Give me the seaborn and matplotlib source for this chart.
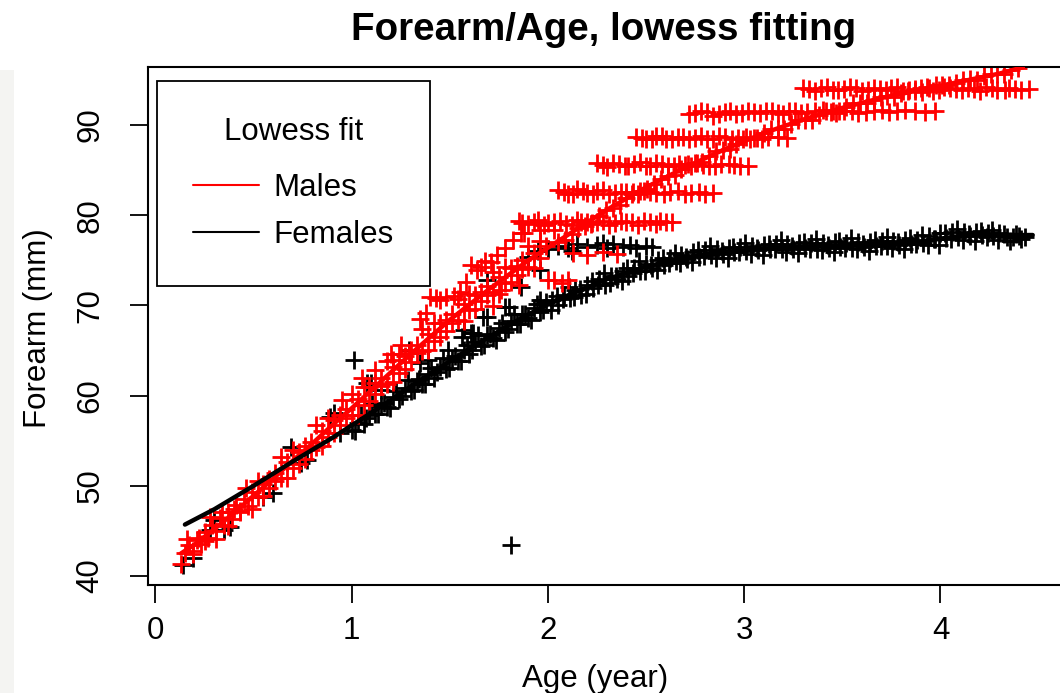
import matplotlib
matplotlib.use("Agg")
import matplotlib.pyplot as plt
import seaborn as sns
from matplotlib.patches import Rectangle

# ---------------- data ----------------
# Females: individual measurements
female_age = [
    0.14, 0.19, 0.28, 0.35, 0.38, 0.30, 0.55, 0.60, 0.69, 0.74, 0.77, 0.89, 0.94, 0.91,
    1.01, 1.10, 1.08, 1.15, 1.81,
    1.29, 1.35, 1.39, 1.49, 1.56, 1.61, 1.67, 1.69, 1.78, 1.80, 1.57, 1.62, 1.69, 1.86,
    1.90, 1.96, 1.96,
    1.95, 2.00, 2.05, 2.10, 2.12, 2.15, 2.20, 2.25, 2.28, 2.30, 2.33, 2.38, 2.42, 2.45,
    2.50, 2.53,
    1.00, 1.03, 1.06, 1.09, 1.12, 1.15, 1.18, 1.21, 1.24, 1.27, 1.30, 1.33, 1.36, 1.39,
    1.42, 1.45, 1.48, 1.51, 1.54, 1.57, 1.60, 1.63, 1.66, 1.69, 1.72, 1.75, 1.78, 1.81,
    1.84, 1.87, 1.90, 1.93, 1.96, 1.99,
    2.02, 2.05, 2.08, 2.11, 2.14, 2.17, 2.20, 2.23, 2.26, 2.29, 2.32, 2.35, 2.38, 2.41,
    2.44, 2.47, 2.50, 2.53, 2.56, 2.59, 2.62, 2.65, 2.68, 2.71, 2.74, 2.77, 2.80, 2.83,
    2.86, 2.89, 2.92, 2.95, 2.98, 3.01, 3.04, 3.07, 3.10, 3.13, 3.16, 3.19, 3.22, 3.25,
    3.28, 3.31, 3.34, 3.37, 3.40, 3.43, 3.46, 3.49, 3.52, 3.55, 3.58, 3.61, 3.64, 3.67,
    3.70, 3.73, 3.76, 3.79, 3.82, 3.85, 3.88, 3.91, 3.94, 3.97, 4.00, 4.03, 4.06, 4.09,
    4.12, 4.15, 4.18, 4.21, 4.24, 4.27, 4.30, 4.34, 4.37, 4.40,
    1.015, 1.045, 1.075, 1.105, 1.135, 1.165, 1.195, 1.225, 1.255, 1.285, 1.315, 1.345,
    1.375, 1.405, 1.435, 1.465, 1.495, 1.525, 1.555, 1.585, 1.615, 1.645, 1.675, 1.705,
    1.735, 1.765, 1.795, 1.825, 1.855, 1.885, 1.915, 1.945, 1.975,
    2.015, 2.045, 2.075, 2.105, 2.135, 2.165, 2.195, 2.225, 2.255, 2.285, 2.315, 2.345,
    2.375, 2.405, 2.435, 2.465, 2.495, 2.525, 2.555, 2.585, 2.615, 2.645, 2.675, 2.705,
    2.735, 2.765, 2.795, 2.825, 2.855, 2.885, 2.915, 2.945, 2.975, 3.005, 3.035, 3.065,
    3.095, 3.125, 3.155, 3.185, 3.215, 3.245, 3.275, 3.305, 3.335, 3.365, 3.395, 3.425,
    3.455, 3.485, 3.515, 3.545, 3.575, 3.605, 3.635, 3.665, 3.695, 3.725, 3.755, 3.785,
    3.815, 3.845, 3.875, 3.905, 3.935, 3.965, 3.995, 4.025, 4.055, 4.085, 4.115, 4.145,
    4.175, 4.205, 4.235, 4.265, 4.295, 4.325, 4.355, 4.385, 4.41, 4.43,
]
female_forearm = [
    41.2, 42.0, 45.1, 45.1, 45.4, 46.2, 48.8, 49.2, 54.3, 52.5, 52.9, 57.6, 55.8, 58.1,
    64.0, 61.4, 61.4, 60.6, 43.4,
    65.1, 63.6, 64.0, 65.1, 66.5, 66.9, 68.7, 68.7, 69.8, 69.8, 67.3, 66.9, 72.8, 72.0,
    75.4, 73.9, 70.6,
    76.0, 76.3, 76.6, 76.4, 76.0, 76.8, 76.5, 76.7, 76.9, 76.4, 76.8, 76.5, 76.7, 76.4,
    76.6, 76.5,
    56.2, 57.0, 56.8, 57.9, 58.0, 58.9, 58.7, 59.8, 59.6, 60.8, 60.5, 61.6, 61.3, 62.4,
    62.0, 63.2, 62.9, 64.1, 63.8, 65.0, 64.6, 65.9, 65.5, 66.7, 66.4, 67.5, 67.1, 68.3,
    67.9, 69.0, 68.6, 69.7, 69.3, 70.4,
    70.6, 70.0, 71.2, 70.8, 71.7, 71.2, 72.3, 71.9, 72.9, 72.3, 73.3, 72.9, 73.8, 73.3,
    74.1, 73.8, 74.6, 74.2, 75.0, 74.5, 75.3, 74.9, 75.6, 75.1, 75.9, 75.4, 76.1, 75.6,
    76.3, 75.7, 76.4, 75.9, 76.5, 76.0, 76.6, 76.1, 76.7, 76.2, 76.8, 76.3, 76.8, 76.3,
    76.9, 76.4, 76.9, 76.3, 76.9, 76.4, 77.0, 76.5, 76.9, 76.4, 77.0, 76.5, 77.0, 76.6,
    77.1, 76.6, 77.1, 76.7, 77.2, 76.8, 77.3, 76.9, 77.7, 77.4, 78.0, 77.5, 78.1, 77.6,
    78.1, 77.7, 78.1, 77.8, 78.0, 77.7, 78.0, 77.6, 77.6, 77.7,
    56.1, 57.9, 57.5, 59.1, 58.0, 59.2, 58.6, 60.5, 60.0, 61.7, 60.6, 61.8,
    61.3, 63.1, 62.6, 64.2, 63.1, 64.4, 63.8, 65.6, 65.1, 66.7, 65.6, 66.8,
    66.2, 68.0, 67.4, 69.0, 67.9, 69.0, 68.4, 70.1, 69.5,
    69.5, 71.0, 70.7, 72.0, 70.9, 71.8, 71.3, 72.7, 72.3, 73.6, 72.5, 73.3,
    72.7, 74.1, 73.6, 74.9, 73.8, 74.5, 73.9, 75.2, 74.7, 75.8, 74.7, 75.4,
    74.8, 76.1, 75.5, 76.6, 75.3, 76.0, 75.3, 76.5, 75.9, 76.9, 75.7, 76.4,
    75.6, 76.8, 76.2, 77.2, 75.9, 76.6, 75.8, 77.0, 76.3, 77.4, 76.1, 76.7,
    75.9, 77.1, 76.4, 77.5, 76.2, 76.8, 76.0, 77.3, 76.6, 77.6, 76.4, 77.0,
    76.2, 77.5, 76.8, 77.8, 76.7, 77.4, 76.7, 78.0, 77.4, 78.5, 77.2, 77.9,
    77.1, 78.3, 77.6, 78.4, 77.3, 77.9, 77.1, 77.9, 77.4, 77.6,
]

# Males: individual measurements
male_age = [
    0.13, 0.15, 0.17, 0.19, 0.21, 0.23, 0.25, 0.27, 0.29, 0.31, 0.33, 0.35, 0.37, 0.39,
    0.41, 0.43, 0.45, 0.47, 0.49, 0.52, 0.55, 0.58, 0.61, 0.64, 0.67, 0.70, 0.73, 0.76,
    0.79, 0.82, 0.85, 0.88, 0.91, 0.94, 0.97, 1.00, 1.03, 1.06, 1.09, 1.12, 1.15, 1.18,
    1.21, 1.24, 1.27, 1.30, 1.33, 1.36, 1.39, 1.42, 1.45, 1.48, 1.51, 1.54, 1.57, 1.60,
    1.63, 1.66, 1.69, 1.72, 1.75, 1.78, 1.81, 1.84, 1.87, 1.90, 1.93, 1.96, 1.99,
    0.16, 0.19, 0.22, 0.25, 0.28, 0.31, 0.34, 0.37, 0.40, 0.43, 0.46, 0.49, 0.52, 0.55,
    0.58, 0.61, 0.64, 0.67, 0.70, 0.73, 0.76, 0.79, 0.82, 0.85, 0.88, 0.91, 0.94, 0.97,
    1.00, 1.03, 1.06, 1.09, 1.12, 1.15, 1.18, 1.21, 1.24, 1.27, 1.30, 1.33, 1.36, 1.39,
    1.42, 1.45, 1.48, 1.51, 1.54, 1.57, 1.60, 1.63, 1.66, 1.69, 1.72, 1.75, 1.78, 1.81,
    1.84, 1.87, 1.90, 1.93, 1.96,
    0.95, 1.12, 1.21, 1.29, 1.40, 1.45, 1.48, 1.55, 1.61, 1.66, 1.71, 1.86, 1.96, 2.03,
    1.35, 1.38, 1.43, 1.52, 1.58, 1.64, 1.68, 1.74, 1.78, 1.82, 1.88, 1.20, 1.25, 1.05,
    2.00, 2.03, 2.07, 2.10, 2.13, 2.20, 2.28, 2.35, 1.76, 1.85, 1.72,
    1.85, 1.90, 1.95, 2.00, 2.06, 2.12, 2.17, 2.22, 2.28, 2.34, 2.40, 2.46, 2.52, 2.57, 2.63,
    1.87, 1.93, 1.98, 2.03, 2.09, 2.15, 2.20, 2.25, 2.31, 2.37, 2.43, 2.49, 2.55, 2.60,
    2.05, 2.10, 2.15, 2.20, 2.25, 2.31, 2.37, 2.43, 2.49, 2.55, 2.62, 2.70, 2.77, 2.84,
    2.08, 2.13, 2.18, 2.23, 2.28, 2.34, 2.40, 2.46, 2.52, 2.59, 2.66, 2.73, 2.80,
    2.25, 2.30, 2.36, 2.41, 2.47, 2.52, 2.58, 2.64, 2.70, 2.76, 2.82, 2.88, 2.95, 3.02,
    2.28, 2.33, 2.39, 2.44, 2.50, 2.55, 2.61, 2.67, 2.73, 2.79, 2.85, 2.92, 2.98,
    2.45, 2.50, 2.55, 2.60, 2.66, 2.72, 2.78, 2.84, 2.90, 2.97, 3.05, 3.12, 3.22,
    2.48, 2.53, 2.58, 2.63, 2.69, 2.75, 2.81, 2.87, 2.94, 3.01, 3.09, 3.17,
    2.72, 2.78, 2.84, 2.90, 2.96, 3.02, 3.08, 3.14, 3.20, 3.26, 3.32, 3.40, 3.47, 3.55,
    3.62, 3.70, 3.78, 3.87, 3.97,
    2.75, 2.81, 2.87, 2.93, 2.99, 3.05, 3.11, 3.17, 3.23, 3.29, 3.36, 3.44, 3.51, 3.58,
    3.66, 3.74, 3.82, 3.92,
    3.30, 3.36, 3.42, 3.48, 3.54, 3.60, 3.66, 3.72, 3.78, 3.84, 3.90, 3.96, 4.02, 4.08,
    4.14, 4.20, 4.26, 4.33, 4.38, 4.45,
    3.33, 3.39, 3.45, 3.51, 3.57, 3.63, 3.69, 3.75, 3.81, 3.87, 3.93, 3.99, 4.05, 4.11,
    4.17, 4.23, 4.29, 4.35, 4.41,
    2.05, 2.12, 2.19, 2.26, 2.33, 2.40, 2.47, 2.54, 2.61, 2.68, 2.75, 2.82, 2.89, 2.96,
    3.03, 3.10, 3.17, 3.24, 3.31, 3.38, 3.45, 3.52, 3.59, 3.66, 3.73, 3.80, 3.87, 3.94,
    4.01, 4.08, 4.15, 4.22, 4.29, 4.36,
    2.085, 2.155, 2.225, 2.295, 2.365, 2.435, 2.505, 2.575, 2.645, 2.715, 2.785, 2.855,
    2.925, 2.995, 3.065, 3.135, 3.205, 3.275, 3.345, 3.415, 3.485, 3.555, 3.625, 3.695,
    3.765, 3.835, 3.905, 3.975, 4.045, 4.115, 4.185, 4.255, 4.325, 4.395,
]
male_forearm = [
    41.3, 42.6, 43.4, 42.8, 44.0, 43.6, 44.9, 44.2, 45.6, 45.0, 46.4, 45.7, 47.1, 46.3,
    47.9, 47.2, 48.5, 47.8, 49.3, 48.8, 50.2, 49.7, 51.4, 50.9, 52.6, 52.0, 53.7, 53.0,
    54.9, 54.3, 56.1, 55.4, 57.3, 56.7, 58.5, 57.8, 59.6, 59.0, 60.9, 60.2, 62.0, 61.3,
    63.2, 62.5, 64.4, 63.7, 65.6, 64.9, 66.8, 66.0, 68.0, 67.2, 69.1, 68.4, 70.2, 69.5,
    71.2, 70.5, 72.2, 71.5, 73.2, 72.5, 74.1, 73.4, 75.0, 74.3, 75.8, 75.2, 76.6,
    44.1, 42.4, 44.2, 43.9, 46.5, 44.1, 47.1, 45.5, 47.4, 47.1, 49.8, 47.4, 50.5, 48.9,
    50.8, 50.5, 53.2, 50.9, 54.0, 52.4, 54.4, 54.0, 56.7, 54.4, 57.5, 55.9, 57.9, 57.5,
    60.2, 57.9, 61.0, 59.4, 61.4, 61.1, 63.8, 61.5, 64.6, 63.0, 65.0, 64.7, 67.4, 65.0,
    68.1, 66.5, 68.4, 68.1, 70.7, 68.3, 71.3, 69.6, 71.5, 71.1, 73.7, 71.3, 74.3, 72.6,
    74.4, 74.0, 76.6, 74.1, 77.1,
    59.5, 62.8, 64.0, 64.7, 70.9, 70.6, 70.9, 71.5, 74.5, 74.3, 74.8, 78.0, 78.4, 78.4,
    68.5, 69.2, 70.8, 71.0, 72.6, 73.9, 74.9, 75.6, 76.4, 77.3, 78.0, 64.6, 65.6, 61.9,
    72.8, 72.8, 72.5, 72.8, 75.8, 75.6, 75.9, 75.7, 71.7, 72.3, 69.9,
    79.4, 79.0, 79.5, 79.1, 79.4, 78.9, 79.3, 79.0, 79.4, 79.1, 79.3, 78.9, 79.2, 79.4, 79.2,
    79.1, 79.3, 78.9, 79.3, 79.0, 79.5, 79.2, 79.3, 78.9, 79.4, 79.2, 79.4, 79.0, 79.2,
    82.8, 82.4, 82.9, 82.5, 82.7, 82.3, 82.6, 82.4, 82.7, 82.5, 82.6, 82.4, 82.6, 82.5,
    82.6, 82.4, 82.7, 82.3, 82.8, 82.5, 82.6, 82.3, 82.6, 82.4, 82.7, 82.5, 82.4,
    85.8, 85.3, 85.7, 85.4, 85.9, 85.5, 85.7, 85.4, 85.6, 85.8, 85.5, 85.7, 85.6, 85.5,
    85.6, 85.8, 85.5, 85.7, 85.4, 85.8, 85.5, 85.7, 85.5, 85.6, 85.4, 85.7, 85.5,
    88.7, 88.4, 88.8, 88.5, 88.7, 88.4, 88.8, 88.5, 88.7, 88.6, 88.6, 88.7, 88.6,
    88.6, 88.5, 88.8, 88.4, 88.7, 88.6, 88.5, 88.8, 88.5, 88.7, 88.5, 88.7,
    91.2, 91.5, 91.0, 91.4, 91.2, 91.6, 91.3, 91.5, 91.2, 91.6, 91.4, 91.7, 91.3, 91.6,
    91.4, 91.7, 91.5, 91.6, 91.5,
    91.3, 91.4, 91.2, 91.5, 91.3, 91.4, 91.6, 91.3, 91.5, 91.3, 91.5, 91.4, 91.6, 91.3,
    91.5, 91.4, 91.7, 91.4,
    94.1, 93.8, 94.2, 93.9, 94.2, 93.8, 94.1, 93.9, 94.2, 93.9, 94.1, 93.8, 94.2, 94.0,
    94.1, 93.8, 94.1, 93.9, 94.0, 94.0,
    94.0, 94.1, 93.9, 94.0, 94.1, 93.9, 94.0, 94.1, 93.8, 94.0, 94.2, 93.9, 94.1, 93.9,
    94.0, 94.2, 93.9, 94.1, 93.9,
    77.0, 77.9, 78.8, 79.9, 80.8, 81.9, 82.7, 83.5, 84.4, 85.1, 85.8, 86.6, 87.2, 87.9,
    88.5, 89.1, 89.6, 90.1, 90.6, 91.1, 91.6, 92.0, 92.4, 92.8, 93.2, 93.5, 93.8, 94.1,
    94.4, 94.7, 95.1, 95.4, 95.7, 96.1,
    77.2, 78.6, 79.1, 80.6, 81.1, 82.6, 82.9, 84.0, 84.5, 85.7, 85.9, 87.1,
    87.3, 88.4, 88.6, 89.6, 89.6, 90.5, 90.6, 91.5, 91.6, 92.4, 92.4, 93.1,
    93.1, 93.8, 93.7, 94.4, 94.4, 95.0, 95.0, 95.7, 95.7, 96.3,
]

# Lowess fitted curves
male_fit_age = [0.13, 0.2, 0.3, 0.4, 0.5, 0.6, 0.7, 0.8, 0.9, 1.0, 1.1, 1.2, 1.3, 1.4,
                1.5, 1.6, 1.7, 1.8, 1.9, 2.0, 2.1, 2.3, 2.5, 2.7, 2.9, 3.1, 3.3, 3.5,
                3.7, 3.9, 4.1, 4.3, 4.42]
male_fit_forearm = [42.5, 43.5, 45.2, 47.0, 48.9, 50.8, 52.8, 54.7, 56.7, 58.6, 60.6,
                    62.6, 64.6, 66.5, 68.4, 70.1, 71.8, 73.4, 75.0, 76.4, 77.8, 80.6,
                    83.1, 85.3, 87.3, 89.1, 90.6, 91.9, 93.0, 93.9, 94.8, 95.7, 96.4]
female_fit_age = [0.15, 0.3, 0.5, 0.7, 0.9, 1.0, 1.1, 1.2, 1.3, 1.4, 1.5, 1.6, 1.7,
                  1.8, 1.9, 2.0, 2.1, 2.2, 2.3, 2.4, 2.5, 2.6, 2.7, 2.8, 2.9, 3.0, 3.1,
                  3.2, 3.3, 3.4, 3.5, 3.6, 3.7, 3.8, 3.9, 4.0, 4.1, 4.2, 4.3, 4.47]
female_fit_forearm = [45.7, 47.4, 50.0, 52.7, 55.3, 56.7, 58.1, 59.5, 61.0, 62.4, 63.8,
                      65.2, 66.5, 67.8, 69.0, 70.1, 71.1, 72.0, 72.9, 73.6, 74.3, 74.8,
                      75.3, 75.7, 75.9, 76.1, 76.3, 76.4, 76.5, 76.6, 76.6, 76.7, 76.8,
                      76.9, 77.0, 77.4, 77.7, 77.8, 77.8, 77.8]

x_ticks = [0, 1, 2, 3, 4]
y_ticks = [40, 50, 60, 70, 80, 90]

# ---------------- styling ----------------
sns.set_style("ticks")
plt.rcParams["font.family"] = ["Liberation Sans", "DejaVu Sans"]
plt.rcParams["text.color"] = "black"
plt.rcParams["axes.labelcolor"] = "black"

W, H = 1060, 693
fig = plt.figure(figsize=(W / 100, H / 100), dpi=100)
fig.patch.set_facecolor("white")
fig.patches.append(Rectangle((0, 0), 14 / W, (H - 70) / H, transform=fig.transFigure,
                             facecolor="#f4f4f2", edgecolor="none", zorder=0))

ax = fig.add_axes([148 / W, (H - 585) / H, (1070 - 148) / W, (585 - 67) / H])
ax.set_facecolor("white")

sns.scatterplot(x=female_age, y=female_forearm, marker="+", s=180, color="black",
                linewidth=2.0, ax=ax, legend=False, zorder=2)
sns.scatterplot(x=male_age, y=male_forearm, marker="+", s=180, color="#ff0000",
                linewidth=2.0, ax=ax, legend=False, zorder=2)
sns.lineplot(x=male_fit_age, y=male_fit_forearm, color="#ff0000", linewidth=3.2,
             sort=False, estimator=None, ax=ax, label="Males", zorder=3)
sns.lineplot(x=female_fit_age, y=female_fit_forearm, color="black", linewidth=3.2,
             sort=False, estimator=None, ax=ax, label="Females", zorder=3)

ax.set_xlim(-0.0382, 4.660)
ax.set_ylim(39.0, 96.43)
ax.set_xticks(x_ticks)
ax.set_yticks(y_ticks)
ax.set_xticklabels([str(v) for v in x_ticks])
ax.set_yticklabels([str(v) for v in y_ticks], rotation=90, va="center")
ax.tick_params(direction="out", length=13, width=1.3, labelsize=22.5, colors="black")
ax.tick_params(axis="x", pad=9)
ax.tick_params(axis="y", pad=17.5)
for s in ax.spines.values():
    s.set_linewidth(1.5)
    s.set_color("black")
    s.set_visible(True)

ax.set_title("Forearm/Age, lowess fitting", fontsize=27.7, fontweight="bold",
             pad=19.5, x=(604 - 148) / 922, color="black")
ax.set_xlabel("Age (year)", fontsize=22.5, color="black")
ax.xaxis.set_label_coords((595 - 148) / 922, (585 - 664) / 518)
ax.set_ylabel("Forearm (mm)", fontsize=22.5, color="black")
ax.yaxis.set_label_coords((53 - 148) / 922, 0.5 - 2 / 518)

leg = ax.legend(title="Lowess fit", loc="upper left",
                bbox_to_anchor=(157 / W, 1 - 81 / H), bbox_transform=fig.transFigure,
                borderaxespad=0, fontsize=22.5, title_fontsize=22.5,
                handlelength=2.1, handletextpad=0.48, borderpad=1.15,
                labelspacing=0.56, fancybox=False, framealpha=1, edgecolor="black")
leg.get_frame().set_linewidth(1.3)
leg._legend_box.sep = 18.5
for ln in leg.get_lines():
    ln.set_linewidth(1.5)
for t in leg.get_texts():
    t.set_color("black")
leg.get_title().set_color("black")

fig.savefig("out.png", dpi=100)
